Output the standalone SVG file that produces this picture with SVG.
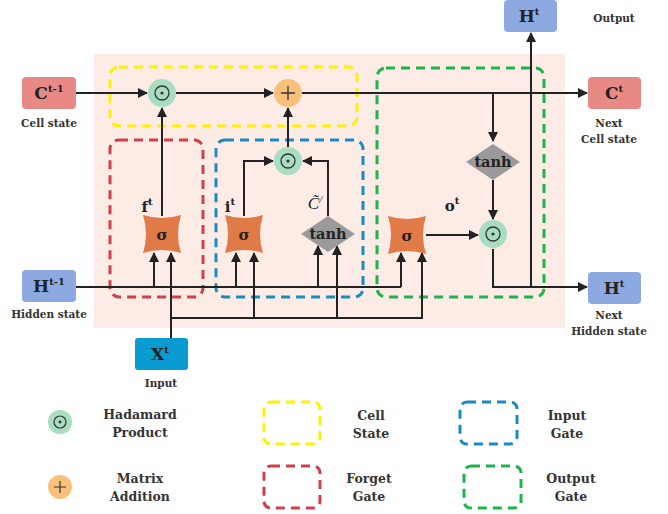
<svg xmlns="http://www.w3.org/2000/svg" width="668" height="514" viewBox="0 0 668 514">
<style>
.lbl{font-family:"DejaVu Serif","Liberation Serif",serif;font-weight:bold;font-size:10.5px;fill:#333;text-anchor:middle}
.leg{font-size:12.5px}
.big{font-family:"DejaVu Serif","Liberation Serif",serif;font-weight:bold;font-size:17px;fill:#222;text-anchor:middle}
.sup{font-size:10px}
.sym{font-family:"DejaVu Serif","Liberation Serif",serif;font-weight:bold;font-size:15px;fill:#222;text-anchor:middle}
.ln{fill:none;stroke:#222;stroke-width:2}
.dash{fill:none;stroke-width:3;stroke-dasharray:9 6}
.had{fill:#A9DDC1}
.add{fill:#F9C07C}
.sig{fill:#E07A46}
.tanh{fill:#9A9A9A}
</style>
<defs>
<marker id="ah" viewBox="0 0 10 10" refX="9" refY="5" markerWidth="5" markerHeight="5" orient="auto-start-reverse"><path d="M0,0 L10,5 L0,10 z" fill="#222"/></marker>
</defs>
<rect x="94" y="54" width="471" height="274" fill="#FDEBE6"/>
<g id="regions">
<rect class="dash" x="110" y="67" width="247" height="59" rx="9" stroke="#FFF200"/>
<rect class="dash" x="110" y="140" width="93" height="157" rx="9" stroke="#D0404A"/>
<rect class="dash" x="216" y="140" width="147" height="157" rx="9" stroke="#1A8AC0"/>
<rect class="dash" x="377" y="68" width="167" height="229" rx="9" stroke="#1DB54A"/>
</g>
<g id="connectors">
<line class="ln" x1="76" y1="93" x2="147" y2="93" marker-end="url(#ah)"/>
<line class="ln" x1="176" y1="93" x2="273" y2="93" marker-end="url(#ah)"/>
<line class="ln" x1="302" y1="93" x2="587" y2="93" marker-end="url(#ah)"/>
<line class="ln" x1="493" y1="93" x2="493" y2="141" marker-end="url(#ah)"/>
<line class="ln" x1="493" y1="180" x2="493" y2="219" marker-end="url(#ah)"/>
<line class="ln" x1="162" y1="216" x2="162" y2="108" marker-end="url(#ah)"/>
<line class="ln" x1="288" y1="147" x2="288" y2="108" marker-end="url(#ah)"/>
<polyline class="ln" points="244,216 244,161 273,161" marker-end="url(#ah)"/>
<polyline class="ln" points="328,216 328,161 303,161" marker-end="url(#ah)"/>
<line class="ln" x1="426" y1="235" x2="478" y2="235" marker-end="url(#ah)"/>
<polyline class="ln" points="493,249 493,287 587,287" marker-end="url(#ah)"/>
<line class="ln" x1="531" y1="287" x2="531" y2="33" marker-end="url(#ah)"/>
<line class="ln" x1="76" y1="287" x2="401" y2="287"/>
<line class="ln" x1="154" y1="287" x2="154" y2="253" marker-end="url(#ah)"/>
<line class="ln" x1="236" y1="287" x2="236" y2="253" marker-end="url(#ah)"/>
<line class="ln" x1="318" y1="287" x2="318" y2="246" marker-end="url(#ah)"/>
<line class="ln" x1="401" y1="287" x2="401" y2="253" marker-end="url(#ah)"/>
<line class="ln" x1="171" y1="338" x2="171" y2="253" marker-end="url(#ah)"/>
<polyline class="ln" points="171,318 422,318 422,253" marker-end="url(#ah)"/>
<line class="ln" x1="254" y1="318" x2="254" y2="253" marker-end="url(#ah)"/>
<line class="ln" x1="337" y1="318" x2="337" y2="246" marker-end="url(#ah)"/>
</g>
<g id="c_prev">
<rect x="22" y="77" width="54" height="32" rx="4" fill="#E98986"/>
<text class="big" x="49" y="99">C<tspan class="sup" dy="-7">t-1</tspan></text>
<text class="lbl" x="49" y="127">Cell state</text>
</g>
<g id="c_next">
<rect x="588" y="77" width="53" height="32" rx="4" fill="#E98986"/>
<text class="big" x="614" y="99">C<tspan class="sup" dy="-7">t</tspan></text>
<text class="lbl" x="609" y="127">Next</text>
<text class="lbl" x="609" y="143">Cell state</text>
</g>
<g id="h_prev">
<rect x="22" y="270" width="54" height="32" rx="4" fill="#8DA9E1"/>
<text class="big" x="49" y="292">H<tspan class="sup" dy="-7">t-1</tspan></text>
<text class="lbl" x="49" y="318">Hidden state</text>
</g>
<g id="h_next">
<rect x="588" y="272" width="53" height="32" rx="4" fill="#8DA9E1"/>
<text class="big" x="614" y="294">H<tspan class="sup" dy="-7">t</tspan></text>
<text class="lbl" x="609" y="319">Next</text>
<text class="lbl" x="609" y="335">Hidden state</text>
</g>
<g id="h_out">
<rect x="504" y="0" width="53" height="32" rx="4" fill="#8DA9E1"/>
<text class="big" x="529" y="22">H<tspan class="sup" dy="-7">t</tspan></text>
<text class="lbl" x="614" y="22">Output</text>
</g>
<g id="x_in">
<rect x="135" y="338" width="53" height="32" rx="3" fill="#0A9BD0"/>
<text class="big" x="160" y="360">X<tspan class="sup" dy="-7">t</tspan></text>
<text class="lbl" x="161" y="387">Input</text>
</g>
<g id="had_forget">
<circle class="had" cx="162" cy="93" r="14"/>
<circle cx="162" cy="93" r="7" fill="none" stroke="#333" stroke-width="1.3"/><circle cx="162" cy="93" r="1.6" fill="#333"/>
</g>
<g id="add_cell">
<circle class="add" cx="288" cy="93" r="14"/>
<path d="M288,86 V100 M281,93 H295" stroke="#333" stroke-width="1.3"/>
</g>
<g id="had_input">
<circle class="had" cx="288" cy="161" r="14"/>
<circle cx="288" cy="161" r="7" fill="none" stroke="#333" stroke-width="1.3"/><circle cx="288" cy="161" r="1.6" fill="#333"/>
</g>
<g id="had_output">
<circle class="had" cx="493" cy="234" r="14"/>
<circle cx="493" cy="234" r="7" fill="none" stroke="#333" stroke-width="1.3"/><circle cx="493" cy="234" r="1.6" fill="#333"/>
</g>
<g id="sig_forget">
<path class="sig" transform="translate(162,234)" d="M-19,-19 Q0,-13 19,-19 Q13,0 19,19 Q0,13 -19,19 Q-13,0 -19,-19 Z"/>
<text class="sym" x="162" y="240">σ</text>
<text class="sym" x="147" y="212">f<tspan class="sup" dy="-7">t</tspan></text>
</g>
<g id="sig_input">
<path class="sig" transform="translate(244,234)" d="M-19,-19 Q0,-13 19,-19 Q13,0 19,19 Q0,13 -19,19 Q-13,0 -19,-19 Z"/>
<text class="sym" x="244" y="240">σ</text>
<text class="sym" x="230" y="212">i<tspan class="sup" dy="-7">t</tspan></text>
</g>
<g id="tanh_input">
<path class="tanh" d="M301,234 L328,216 L355,234 L328,252 Z"/>
<text class="sym" x="328" y="239" style="font-size:14.5px">tanh</text>
<text x="315" y="209" style="font-family:'Liberation Serif',serif;font-style:italic;font-size:17px;fill:#222;text-anchor:middle">C̃<tspan font-size="11" dy="-6">/</tspan></text>
</g>
<g id="sig_output">
<path class="sig" transform="translate(407,235)" d="M-19,-19 Q0,-13 19,-19 Q13,0 19,19 Q0,13 -19,19 Q-13,0 -19,-19 Z"/>
<text class="sym" x="407" y="241">σ</text>
<text class="sym" x="452" y="211">o<tspan class="sup" dy="-7">t</tspan></text>
</g>
<g id="tanh_output">
<path class="tanh" d="M466,162 L493,144 L520,162 L493,180 Z"/>
<text class="sym" x="493" y="167" style="font-size:14.5px">tanh</text>
</g>
<g id="legend">
<circle class="had" cx="60" cy="422" r="12"/>
<circle cx="60" cy="422" r="6" fill="none" stroke="#333" stroke-width="1.2"/><circle cx="60" cy="422" r="1.4" fill="#333"/>
<text class="lbl leg" x="140" y="419">Hadamard</text>
<text class="lbl leg" x="140" y="437">Product</text>
<circle class="add" cx="60" cy="487" r="12"/>
<path d="M60,481 V493 M54,487 H66" stroke="#333" stroke-width="1.2"/>
<text class="lbl leg" x="140" y="483">Matrix</text>
<text class="lbl leg" x="140" y="501">Addition</text>
<rect class="dash" x="264" y="402" width="56" height="42" rx="7" stroke="#FFF200"/>
<text class="lbl leg" x="371" y="420">Cell</text>
<text class="lbl leg" x="371" y="438">State</text>
<rect class="dash" x="264" y="466" width="56" height="42" rx="7" stroke="#D0404A"/>
<text class="lbl leg" x="369" y="483">Forget</text>
<text class="lbl leg" x="369" y="501">Gate</text>
<rect class="dash" x="460" y="402" width="57" height="42" rx="7" stroke="#1A8AC0"/>
<text class="lbl leg" x="567" y="420">Input</text>
<text class="lbl leg" x="567" y="438">Gate</text>
<rect class="dash" x="464" y="466" width="57" height="42" rx="7" stroke="#1DB54A"/>
<text class="lbl leg" x="571" y="483">Output</text>
<text class="lbl leg" x="571" y="501">Gate</text>
</g>
</svg>
